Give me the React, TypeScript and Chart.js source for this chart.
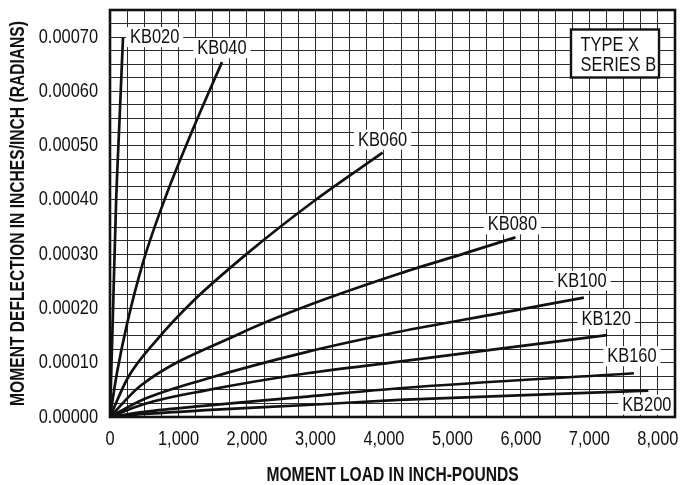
import React, { useEffect, useRef } from 'react';
import { Chart, registerables } from 'chart.js';

Chart.register(...registerables);

// ---------- data ----------
const seriesNames = ['KB020', 'KB040', 'KB060', 'KB080', 'KB100', 'KB120', 'KB160', 'KB200'];

const kb020Load = [0, 45, 90, 140, 190];
const kb020Defl = [0, 0.0002, 0.0004, 0.00055, 0.0007];

const kb040Load = [0, 100, 250, 490, 810, 1230, 1635];
const kb040Defl = [0, 0.00008, 0.000172, 0.000288, 0.000405, 0.000536, 0.000654];

const kb060Load = [0, 255, 690, 1200, 2010, 2980, 3980];
const kb060Defl = [0, 0.000071, 0.000143, 0.000212, 0.000302, 0.000398, 0.000487];

const kb080Load = [0, 450, 1900, 2880, 4220, 5190, 5920];
const kb080Defl = [0, 0.000058, 0.000154, 0.000205, 0.000264, 0.000302, 0.000331];

const kb100Load = [0, 500, 1400, 2880, 4220, 5680, 6920];
const kb100Defl = [0, 0.000033, 0.00007, 0.00012, 0.000157, 0.000191, 0.00022];

const kb120Load = [0, 500, 1400, 2880, 4220, 5700, 7260];
const kb120Defl = [0, 0.000024, 0.000049, 0.0000806, 0.000102, 0.000126, 0.000151];

const kb160Load = [0, 500, 1400, 2880, 4220, 7650];
const kb160Defl = [0, 0.0000095, 0.000021, 0.0000375, 0.000053, 0.0000806];

const kb200Load = [0, 500, 1400, 2880, 4220, 7860];
const kb200Defl = [0, 0.0000056, 0.0000125, 0.0000221, 0.0000314, 0.0000485];

const seriesLoads = [kb020Load, kb040Load, kb060Load, kb080Load, kb100Load, kb120Load, kb160Load, kb200Load];
const seriesDefls = [kb020Defl, kb040Defl, kb060Defl, kb080Defl, kb100Defl, kb120Defl, kb160Defl, kb200Defl];

const xLabelValues = [0, 1000, 2000, 3000, 4000, 5000, 6000, 7000, 8000];
const yLabelValues = [0, 0.0001, 0.0002, 0.0003, 0.0004, 0.0005, 0.0006, 0.0007];

const xTitle = 'MOMENT LOAD IN INCH-POUNDS';
const yTitle = 'MOMENT DEFLECTION IN INCHES/INCH (RADIANS)';
const noteLines = ['TYPE X', 'SERIES B'];

// ---------- styling / layout ----------
const X_MAX = 8250;
const X_GRID = 250;
const Y_MAX = 0.00075;
const Y_GRID = 0.000025;

const FONT = "'Liberation Sans', Arial, sans-serif";
const INK = '#111111';
const GRID = '#2a2a2a';
// horizontal compression to imitate a condensed face
const CONDENSE_REGULAR = 0.82;
const CONDENSE_BOLD = 0.78;

// label offsets relative to each curve's last point
const labelPlacement = [
  { side: 'right', dx: 7, dy: 0 },
  { side: 'center', dx: 0, dy: -14 },
  { side: 'center', dx: 0, dy: -13 },
  { side: 'center', dx: -3, dy: -13 },
  { side: 'center', dx: -2, dy: -17 },
  { side: 'center', dx: -1, dy: -16 },
  { side: 'center', dx: -2, dy: -17 },
  { side: 'center', dx: -1.5, dy: 14 },
];

const gridTicks = (max: number, step: number) =>
  Array.from({ length: Math.round(max / step) + 1 }, (_, k) => ({ value: k * step }));

export default function App() {
  const ref = useRef<HTMLCanvasElement>(null);

  useEffect(() => {
    const canvas = ref.current;
    if (!canvas) return;

    const datasets = seriesNames.map((name, i) => ({
      label: name,
      data: seriesLoads[i].map((x, j) => ({ x, y: seriesDefls[i][j] })),
      borderColor: INK,
      borderWidth: 2.7,
      pointRadius: 0,
      fill: false,
      cubicInterpolationMode: 'monotone' as const,
    }));

    const condensed = {
      id: 'condensed',
      beforeDraw(chart: any) {
        const ctx = chart.ctx as any;
        const orig = CanvasRenderingContext2D.prototype.fillText;
        ctx.fillText = function (text: string, x: number, y: number, maxWidth?: number) {
          const f = String(this.font).includes('bold') ? CONDENSE_BOLD : CONDENSE_REGULAR;
          const w = this.measureText(text).width * f;
          if (w <= 0) return;
          const mw = maxWidth !== undefined ? Math.min(maxWidth, w) : w;
          orig.call(this, text, x, y, mw);
        };
      },
      afterDraw(chart: any) {
        delete (chart.ctx as any).fillText;
      },
    };

    const overlay = {
      id: 'overlay',
      afterDatasetsDraw(chart: any) {
        const ctx = chart.ctx as CanvasRenderingContext2D;
        const a = chart.chartArea;
        ctx.save();
        ctx.font = `20px ${FONT}`;
        ctx.textBaseline = 'middle';
        ctx.textAlign = 'center';
        chart.data.datasets.forEach((ds: any, i: number) => {
          const meta = chart.getDatasetMeta(i);
          const pt = meta.data[meta.data.length - 1];
          const p = labelPlacement[i];
          const w = ctx.measureText(ds.label).width * CONDENSE_REGULAR;
          const cx = p.side === 'right' ? pt.x + p.dx + w / 2 : pt.x + p.dx;
          const cy = pt.y + p.dy;
          ctx.fillStyle = '#ffffff';
          ctx.fillRect(cx - w / 2 - 4, cy - 10, w + 8, 20);
          ctx.fillStyle = INK;
          ctx.fillText(ds.label, cx, cy + 0.5);
        });

        // note box
        const bw = 88;
        const bh = 48;
        const bx = a.right - 16 - bw;
        const by = a.top + 19.5;
        ctx.fillStyle = '#ffffff';
        ctx.fillRect(bx, by, bw, bh);
        ctx.lineWidth = 2.4;
        ctx.strokeStyle = INK;
        ctx.strokeRect(bx, by, bw, bh);
        ctx.fillStyle = INK;
        ctx.textAlign = 'left';
        noteLines.forEach((line, k) => {
          ctx.fillText(line, bx + 9.5, by + 16 + k * 20);
        });

        // frame
        ctx.lineWidth = 2.6;
        ctx.strokeStyle = INK;
        ctx.strokeRect(a.left, a.top, a.right - a.left, a.bottom - a.top);
        ctx.restore();
      },
    };

    const chart = new Chart(canvas, {
      type: 'line',
      data: { datasets },
      options: {
        animation: false,
        responsive: false,
        maintainAspectRatio: false,
        layout: { padding: { top: 10, right: 6, left: 0, bottom: 0 } },
        plugins: {
          legend: { display: false },
          tooltip: { enabled: false },
          title: { display: false },
        },
        scales: {
          x: {
            type: 'linear',
            min: 0,
            max: X_MAX,
            afterBuildTicks: (s: any) => {
              s.ticks = gridTicks(X_MAX, X_GRID);
            },
            afterFit: (s: any) => {
              s.height = 68;
              s.paddingLeft = 0;
              s.paddingRight = 0;
            },
            grid: { color: GRID, lineWidth: 1, drawTicks: false },
            border: { display: false },
            ticks: {
              autoSkip: false,
              maxRotation: 0,
              minRotation: 0,
              padding: 10,
              color: INK,
              font: { family: FONT, size: 20 },
              callback: (v: any) =>
                xLabelValues.some((t) => Math.abs(t - Number(v)) < 1e-6)
                  ? Number(v).toLocaleString('en-US')
                  : '',
            },
            title: {
              display: true,
              text: xTitle,
              color: INK,
              font: { family: FONT, size: 20, weight: 'bold', lineHeight: 1 },
              padding: 0,
            },
          },
          y: {
            type: 'linear',
            min: 0,
            max: Y_MAX,
            afterBuildTicks: (s: any) => {
              s.ticks = gridTicks(Y_MAX, Y_GRID);
            },
            afterFit: (s: any) => {
              s.width = 110;
              s.paddingTop = 0;
              s.paddingBottom = 0;
            },
            grid: { color: GRID, lineWidth: 1, drawTicks: false },
            border: { display: false },
            ticks: {
              autoSkip: false,
              padding: 12,
              color: INK,
              font: { family: FONT, size: 20 },
              callback: (v: any) =>
                yLabelValues.some((t) => Math.abs(t - Number(v)) < 1e-10)
                  ? Number(v).toFixed(5)
                  : '',
            },
            title: {
              display: true,
              text: yTitle,
              color: INK,
              font: { family: FONT, size: 20, weight: 'bold', lineHeight: 1 },
              padding: { top: 8, bottom: 0 },
            },
          },
        },
      },
      plugins: [condensed, overlay],
    } as any);

    return () => chart.destroy();
  }, []);

  return (
    <div style={{ position: 'absolute', left: 0, top: 0, width: 681, height: 485, background: '#ffffff' }}>
      <canvas ref={ref} width={681} height={485} style={{ display: 'block' }} />
    </div>
  );
}
